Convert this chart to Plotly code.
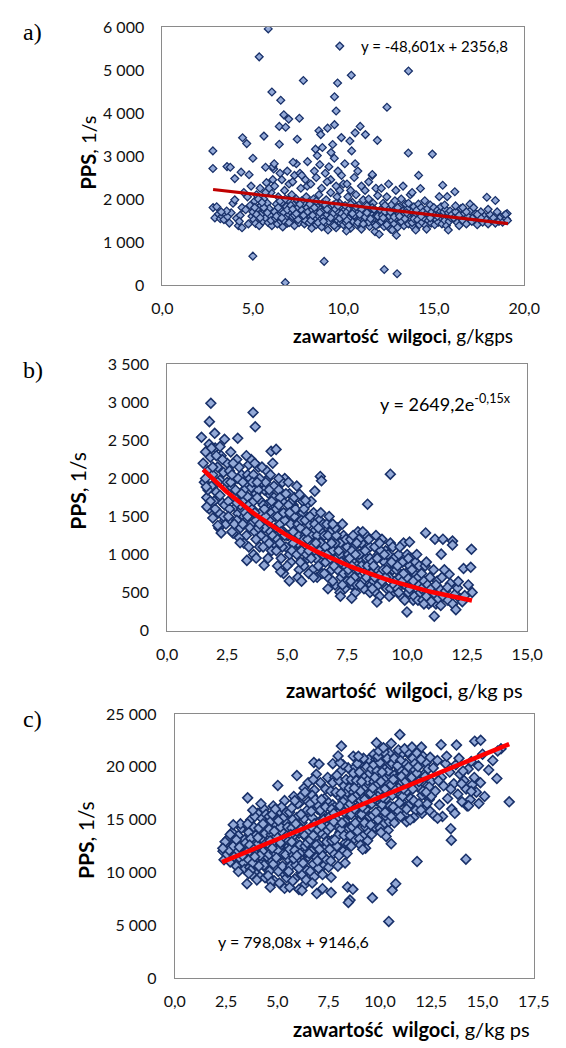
import math
import plotly.graph_objects as go

W, H = 566, 1048

# ---------------- DATA ----------------
# Panel a) PPS vs moisture content, linear trend y = -48,601x + 2356,8
A_OUTLIERS = [(5.85, 5960), (5.35, 5310), (9.8, 5560), (13.6, 4980), (10.44, 4880), (7.79, 4760),
              (9.68, 4700), (9.51, 4380), (6.05, 4490), (6.54, 4300), (12.41, 4135), (9.6, 4050),
              (6.71, 3960), (6.98, 3860), (7.57, 3880), (6.46, 3690), (6.81, 3670), (5.61, 3465),
              (4.43, 3425), (4.66, 3290), (7.45, 3390), (6.46, 3275), (9.51, 3730), (8.65, 3590),
              (8.75, 3500), (9.13, 3650), (9.41, 3270), (9.89, 3430), (10.36, 3350), (10.46, 3120),
              (10.65, 3540), (10.93, 3690), (11.22, 3500), (11.88, 3365), (8.46, 3160), (8.84, 3200),
              (9.32, 3080), (8.56, 3010), (2.79, 3120), (2.79, 2710), (5.0, 2950), (13.59, 3070),
              (14.92, 3045), (3.57, 2755), (3.75, 2740), (4.0, 2475), (4.35, 2625), (4.79, 2565),
              (5.7, 2740), (6.18, 2820), (7.22, 2855), (8.02, 2870), (10.08, 2820), (10.65, 2820),
              (14.16, 2550), (11.6, 2570), (14.26, 2245), (15.49, 2320), (16.16, 2170), (15.74, 2055),
              (15.3, 2055), (17.93, 2040), (18.4, 1965), (18.97, 1640), (19.07, 1500), (5.0, 670),
              (8.94, 548), (6.79, 53), (12.26, 358), (12.97, 259), (11.98, 1180), (12.93, 1157),
              (10.17, 1256)]
A_CLOUD = [
    (2.8, 1800), (2.9, 1560), (3.0, 1820), (3.1, 1650), (3.2, 1540), (3.3, 1600), (3.4, 1520), (3.5, 1640),
    (3.6, 1590), (3.7, 1440), (3.8, 1680), (3.9, 1900), (4.0, 1980), (3.55, 1720), (3.25, 1700), (4.1, 1550),
    (4.2, 1380), (4.3, 1620), (4.4, 1800), (4.5, 2150), (4.25, 1480), (4.6, 1750), (4.7, 2050), (4.75, 1420),
    (4.4, 1330), (4.85, 1850), (4.9, 2300), (4.95, 1600),
    (5.0, 1700), (5.05, 1520), (5.1, 1950), (5.15, 1430), (5.2, 2100), (5.25, 1780), (5.3, 1600), (5.35, 1380),
    (5.4, 2250), (5.45, 1850), (5.5, 1660), (5.55, 1480), (5.6, 2000), (5.65, 1720), (5.7, 1560), (5.75, 2380),
    (5.8, 1900), (5.85, 1450), (5.9, 1780), (5.95, 1620), (6.0, 2150), (6.05, 1380), (5.2, 1640), (5.4, 1560),
    (5.6, 1800), (5.8, 1680), (6.0, 1500), (5.1, 1800), (5.3, 2000), (5.5, 1920), (5.7, 2150), (5.9, 2250),
    (6.1, 2450), (6.15, 2700), (6.1, 2750),
    (6.2, 1700), (6.25, 1550), (6.3, 1880), (6.35, 1420), (6.4, 2050), (6.45, 1630), (6.5, 1760), (6.55, 1480),
    (6.6, 1920), (6.65, 1350), (6.7, 1680), (6.75, 2200), (6.8, 1560), (6.85, 1820), (6.9, 1440), (6.95, 1980),
    (7.0, 1640), (7.05, 1720), (7.1, 1500), (7.15, 2100), (7.2, 1590), (7.25, 1860), (7.3, 1380), (7.35, 1700),
    (7.4, 2000), (7.45, 1540), (7.5, 1800), (7.55, 1450), (7.6, 1650), (7.65, 2250), (7.7, 1740), (7.75, 1580),
    (7.8, 1900), (7.85, 1420), (7.9, 1680), (7.95, 2050), (8.0, 1560),
    (6.3, 1600), (6.5, 1950), (6.7, 1500), (6.9, 1750), (7.1, 1850), (7.3, 1620), (7.5, 1520), (7.7, 1960),
    (7.9, 1500), (6.4, 1800), (6.6, 1560), (6.8, 2000), (7.0, 1450), (7.2, 1760), (7.4, 1660), (7.6, 1880),
    (7.8, 1620), (8.0, 1800), (6.2, 2300), (6.6, 2450), (7.0, 2350), (7.3, 2550), (7.6, 2600), (7.9, 2450),
    (6.9, 2650), (7.4, 2820), (7.7, 2550), (8.0, 2300), (6.5, 2600), (7.2, 2400),
    (8.05, 1700), (8.1, 1450), (8.15, 1880), (8.2, 1600), (8.25, 1320), (8.3, 1750), (8.35, 2000), (8.4, 1540),
    (8.45, 1680), (8.5, 1400), (8.55, 1820), (8.6, 1620), (8.65, 2100), (8.7, 1500), (8.75, 1760), (8.8, 1350),
    (8.85, 1900), (8.9, 1580), (8.95, 1700), (9.0, 1450), (9.05, 1980), (9.1, 1640), (9.15, 1280), (9.2, 1800),
    (9.25, 1540), (9.3, 2150), (9.35, 1700), (9.4, 1420), (9.45, 1860), (9.5, 1600), (9.55, 1760), (9.6, 1330),
    (9.65, 2050), (9.7, 1500), (9.75, 1680), (9.8, 1900), (9.85, 1440), (9.9, 1820), (9.95, 1580), (10.0, 1720),
    (8.2, 1500), (8.4, 1800), (8.6, 1450), (8.8, 1700), (9.0, 1860), (9.2, 1480), (9.4, 1650), (9.6, 1900),
    (9.8, 1550), (10.0, 1400), (8.3, 1620), (8.5, 1950), (8.7, 1680), (8.9, 1480), (9.1, 1760), (9.3, 1560),
    (9.5, 1380), (9.7, 1840), (9.9, 1660),
    (8.2, 2350), (8.5, 2500), (8.8, 2250), (9.0, 2600), (9.3, 2450), (9.6, 2300), (9.9, 2550), (8.7, 2800),
    (9.2, 2750), (9.7, 2650), (10.0, 2350), (8.4, 2650), (9.5, 2950), (9.1, 2400), (9.8, 2200),
    (10.05, 1600), (10.1, 1850), (10.15, 1450), (10.2, 1700), (10.25, 2050), (10.3, 1540), (10.35, 1780),
    (10.4, 1320), (10.45, 1660), (10.5, 1920), (10.55, 1480), (10.6, 1740), (10.65, 1580), (10.7, 2100),
    (10.75, 1400), (10.8, 1680), (10.85, 1860), (10.9, 1520), (10.95, 1760), (11.0, 1300), (11.05, 1620),
    (11.1, 1980), (11.15, 1500), (11.2, 1700), (11.25, 1440), (11.3, 1840), (11.35, 1580), (11.4, 2000),
    (11.45, 1360), (11.5, 1660), (11.55, 1780), (11.6, 1480), (11.65, 1900), (11.7, 1560), (11.75, 1240),
    (11.8, 1720), (11.85, 1620), (11.9, 2080), (11.95, 1420), (12.0, 1680),
    (10.2, 1500), (10.4, 1880), (10.6, 1620), (10.8, 1450), (11.0, 1760), (11.2, 1580), (11.4, 1460),
    (11.6, 1800), (11.8, 1380), (12.0, 1540), (10.3, 1380), (10.5, 1660), (10.7, 1820), (10.9, 1640),
    (11.1, 1420), (11.3, 1680), (11.5, 1540), (11.7, 1760), (11.9, 1600),
    (10.2, 2350), (10.6, 2500), (11.0, 2300), (11.4, 2400), (11.8, 2250), (10.8, 2650), (11.6, 2550),
    (10.4, 2200), (11.2, 2200),
    (12.05, 1750), (12.1, 1480), (12.15, 1620), (12.2, 1900), (12.25, 1360), (12.3, 1700), (12.35, 1540),
    (12.4, 2050), (12.45, 1440), (12.5, 1780), (12.55, 1600), (12.6, 1300), (12.65, 1860), (12.7, 1500),
    (12.75, 1680), (12.8, 1420), (12.85, 1960), (12.9, 1560), (12.95, 1740), (13.0, 1340), (13.05, 1640),
    (13.1, 1820), (13.15, 1460), (13.2, 2000), (13.25, 1580), (13.3, 1720), (13.35, 1380), (13.4, 1660),
    (13.45, 1880), (13.5, 1500), (13.55, 1760), (13.6, 1420), (13.65, 1620), (13.7, 2100), (13.75, 1540),
    (13.8, 1700), (13.85, 1360), (13.9, 1820), (13.95, 1600), (14.0, 1480),
    (12.2, 1560), (12.4, 1400), (12.6, 1700), (12.8, 1580), (13.0, 1800), (13.2, 1480), (13.4, 1540),
    (13.6, 1900), (13.8, 1450), (14.0, 1660), (12.3, 1850), (12.7, 1280), (13.1, 1600), (13.5, 1680),
    (13.9, 1540), (12.9, 2200), (13.3, 2300), (12.5, 2350), (13.8, 2150), (12.1, 2250),
    (14.05, 1740), (14.1, 1520), (14.15, 1880), (14.2, 1400), (14.25, 1640), (14.3, 1800), (14.35, 1460),
    (14.4, 1700), (14.45, 1560), (14.5, 1960), (14.55, 1380), (14.6, 1660), (14.65, 1780), (14.7, 1500),
    (14.75, 1620), (14.8, 1860), (14.85, 1440), (14.9, 1700), (14.95, 1560), (15.0, 1800), (15.05, 1400),
    (15.1, 1640), (15.15, 1520), (15.2, 1740), (15.25, 1460), (15.3, 1680), (15.35, 1580), (15.4, 1820),
    (15.45, 1420), (15.5, 1620), (15.55, 1700), (15.6, 1500), (15.65, 1760), (15.7, 1380), (15.75, 1600),
    (15.8, 1680), (15.85, 1480), (15.9, 1720), (15.95, 1560), (16.0, 1640),
    (14.3, 1600), (14.8, 1560), (15.2, 1600), (15.6, 1860), (14.6, 1300), (15.8, 1280), (14.0, 1280),
    (16.1, 1560), (16.2, 1700), (16.3, 1450), (16.4, 1620), (16.5, 1780), (16.6, 1500), (16.7, 1660),
    (16.8, 1420), (16.9, 1600), (17.0, 1720), (17.1, 1480), (17.2, 1580), (17.3, 1660), (17.4, 1400),
    (17.5, 1540), (17.6, 1700), (17.7, 1460), (17.8, 1600), (17.9, 1520), (18.0, 1420), (18.1, 1640),
    (18.2, 1500), (18.3, 1560), (18.4, 1440), (18.5, 1700), (18.6, 1480), (18.7, 1580), (18.8, 1460),
    (18.9, 1620), (19.0, 1540), (19.05, 1660),
    (16.2, 1840), (16.6, 1800), (17.0, 1880), (16.4, 1380), (17.2, 1800), (17.6, 1560), (18.0, 1760),
    (16.8, 1700), (17.4, 1640)]
A_SLOPE, A_INTERCEPT = -48.601, 2356.8
A_TREND_X = [2.8, 19.1]

# Panel b) exponential trend y = 2649,2 e^(-0,15x)
B_OUTLIERS = [(1.82, 2989), (1.76, 2748), (1.43, 2542), (1.98, 2594), (2.39, 2516), (2.94, 2529),
              (3.58, 2868), (3.67, 2680), (4.33, 2357), (4.54, 2383), (2.65, 2349), (9.3, 2057),
              (8.35, 1662), (6.38, 2027), (6.43, 1971), (6.15, 1834), (5.52, 1791), (5.76, 1713),
              (10.77, 1284), (11.16, 1202), (11.49, 1202), (11.89, 1177), (11.89, 1125), (12.68, 1069),
              (11.42, 1005), (10.1, 1164), (12.35, 816), (12.65, 833), (12.13, 644), (12.71, 502),
              (12.03, 275), (11.13, 189), (9.99, 245), (11.68, 567), (3.04, 1155), (3.32, 923),
              (3.71, 953), (4.04, 859), (2.25, 1284), (2.11, 1383), (1.65, 1627), (1.63, 1889),
              (7.22, 451), (7.69, 425), (8.74, 374), (4.73, 773), (5.09, 653)]
B_CLOUD = [
    (1.5, 2200), (1.55, 1950), (1.6, 2350), (1.65, 1750), (1.7, 2100), (1.75, 1600), (1.8, 2280), (1.85, 1900),
    (1.9, 2050), (1.95, 1700), (2.0, 2400), (2.05, 1820), (2.1, 2150), (2.15, 1550), (2.2, 1980), (2.25, 2300),
    (2.3, 1680), (2.35, 2080), (2.4, 1450), (2.45, 1880), (2.5, 2200),
    (1.6, 2000), (1.7, 1850), (1.8, 1700), (1.9, 2150), (2.0, 1600), (2.1, 1950), (2.2, 1780), (2.3, 2250),
    (2.4, 1650), (2.5, 1950), (1.75, 2450), (1.85, 2400), (2.05, 2300), (2.35, 1500), (1.9, 1480), (2.15, 1350),
    (2.45, 1400), (2.2, 2420),
    (2.55, 1700), (2.6, 2100), (2.65, 1450), (2.7, 1880), (2.75, 1280), (2.8, 1980), (2.85, 1620), (2.9, 2250),
    (2.95, 1540), (3.0, 1800), (3.05, 1350), (3.1, 2050), (3.15, 1700), (3.2, 1500), (3.25, 1920), (3.3, 1250),
    (3.35, 1760), (3.4, 2180), (3.45, 1580), (3.5, 1880),
    (2.6, 1600), (2.7, 1300), (2.8, 1750), (2.9, 1450), (3.0, 2150), (3.1, 1600), (3.2, 1850), (3.3, 1450),
    (3.4, 1650), (3.5, 1400), (2.65, 1950), (2.75, 2200), (2.85, 1850), (2.95, 2000), (3.05, 1650), (3.15, 1950),
    (3.25, 1550), (3.35, 2050), (3.45, 1350), (2.55, 1500), (3.2, 1150), (3.4, 1100), (3.0, 1220), (2.8, 1400),
    (3.35, 1500), (3.15, 1400), (2.9, 1680), (3.45, 2000), (3.5, 2250), (3.3, 2300), (3.1, 1800), (2.7, 2050),
    (3.55, 1600), (3.6, 2050), (3.65, 1300), (3.7, 1800), (3.75, 1500), (3.8, 2150), (3.85, 1100), (3.9, 1700),
    (3.95, 1950), (4.0, 1400), (4.05, 1850), (4.1, 1200), (4.15, 1650), (4.2, 2000), (4.25, 1450), (4.3, 1780),
    (4.35, 1050), (4.4, 1600), (4.45, 1900), (4.5, 1350),
    (3.6, 1700), (3.7, 1450), (3.8, 1850), (3.9, 1250), (4.0, 1650), (4.1, 1950), (4.2, 1550), (4.3, 1300),
    (4.4, 2200), (4.5, 1700), (3.55, 1950), (3.65, 2200), (3.75, 1750), (3.85, 2000), (3.95, 1500), (4.05, 1350),
    (4.15, 2100), (4.25, 1850), (4.35, 1550), (4.45, 1150), (3.6, 1000), (3.8, 1350), (4.0, 1100), (4.2, 950),
    (4.4, 1250), (3.7, 1200), (3.9, 1550), (4.1, 1500), (4.3, 2050), (4.5, 1500), (3.65, 1550), (4.25, 1150),
    (3.95, 2150), (4.45, 1750), (3.75, 1950), (4.05, 1600), (4.35, 1700), (3.85, 1400),
    (4.55, 1600), (4.6, 1200), (4.65, 1850), (4.7, 1400), (4.75, 950), (4.8, 1700), (4.85, 1300), (4.9, 2000),
    (4.95, 1100), (5.0, 1550), (5.05, 1250), (5.1, 1800), (5.15, 900), (5.2, 1450), (5.25, 1650), (5.3, 1050),
    (5.35, 1350), (5.4, 1900), (5.45, 1150), (5.5, 1500),
    (4.6, 1500), (4.7, 1750), (4.8, 1100), (4.9, 1450), (5.0, 1250), (5.1, 1000), (5.2, 1700), (5.3, 1500),
    (5.4, 1200), (5.5, 800), (4.55, 1050), (4.65, 1650), (4.75, 1300), (4.85, 1550), (4.95, 1800), (5.05, 1650),
    (5.15, 1400), (5.25, 1150), (5.35, 1600), (5.45, 1400), (4.6, 850), (4.8, 1950), (5.0, 850), (5.2, 1050),
    (5.4, 1000), (4.7, 1150), (4.9, 1250), (5.1, 1550), (5.3, 1750), (5.5, 1250), (4.65, 2000), (5.05, 1950),
    (5.25, 1300), (5.45, 700), (4.85, 750),
    (5.55, 1350), (5.6, 1050), (5.65, 1550), (5.7, 850), (5.75, 1250), (5.8, 1650), (5.85, 950), (5.9, 1400),
    (5.95, 1150), (6.0, 1700), (6.05, 800), (6.1, 1300), (6.15, 1050), (6.2, 1500), (6.25, 700), (6.3, 1200),
    (6.35, 1450), (6.4, 900), (6.45, 1300), (6.5, 1100),
    (5.6, 1450), (5.7, 1200), (5.8, 1000), (5.9, 750), (6.0, 1250), (6.1, 1550), (6.2, 950), (6.3, 850),
    (6.4, 1150), (6.5, 1400), (5.55, 900), (5.65, 1700), (5.75, 1450), (5.85, 1200), (5.95, 1500), (6.05, 1100),
    (6.15, 1400), (6.25, 1250), (6.35, 1050), (6.45, 750), (5.6, 650), (5.8, 1300), (6.0, 950), (6.2, 1150),
    (6.4, 1550), (5.7, 1600), (5.9, 1050), (6.1, 700), (6.3, 1350), (6.5, 1000),
    (6.55, 1250), (6.6, 900), (6.65, 1400), (6.7, 700), (6.75, 1100), (6.8, 1300), (6.85, 800), (6.9, 1050),
    (6.95, 1200), (7.0, 600), (7.05, 950), (7.1, 1350), (7.15, 850), (7.2, 1150), (7.25, 700), (7.3, 1000),
    (7.35, 1250), (7.4, 550), (7.45, 900), (7.5, 1100),
    (6.6, 1100), (6.7, 1250), (6.8, 950), (6.9, 650), (7.0, 1150), (7.1, 800), (7.2, 1000), (7.3, 1400),
    (7.4, 850), (7.5, 650), (6.55, 750), (6.65, 1000), (6.75, 1500), (6.85, 1150), (6.95, 850), (7.05, 1250),
    (7.15, 1050), (7.25, 900), (7.35, 750), (7.45, 1200), (6.7, 550), (7.0, 1350), (7.3, 600), (6.9, 1400),
    (7.2, 500),
    (7.55, 1000), (7.6, 750), (7.65, 1200), (7.7, 600), (7.75, 900), (7.8, 1100), (7.85, 500), (7.9, 850),
    (7.95, 1300), (8.0, 700), (8.05, 950), (8.1, 1150), (8.15, 650), (8.2, 1050), (8.25, 800), (8.3, 1250),
    (8.35, 550), (8.4, 900), (8.45, 1100), (8.5, 750),
    (7.6, 950), (7.7, 1050), (7.8, 700), (7.9, 600), (8.0, 1000), (8.1, 850), (8.2, 550), (8.3, 950),
    (8.4, 1200), (8.5, 600), (7.55, 800), (7.65, 650), (7.75, 1250), (7.85, 1000), (7.95, 800), (8.05, 600),
    (8.15, 1300), (8.25, 1050), (8.35, 850), (8.45, 500), (7.7, 850), (8.0, 1200), (8.3, 700), (7.9, 1150),
    (8.45, 950),
    (8.55, 900), (8.6, 650), (8.65, 1100), (8.7, 500), (8.75, 800), (8.8, 1000), (8.85, 450), (8.9, 750),
    (8.95, 1200), (9.0, 600), (9.05, 900), (9.1, 1050), (9.15, 550), (9.2, 850), (9.25, 700), (9.3, 1150),
    (9.35, 480), (9.4, 800), (9.45, 950), (9.5, 650),
    (8.6, 850), (8.7, 1250), (8.8, 600), (8.9, 1050), (9.0, 800), (9.1, 700), (9.2, 1000), (9.3, 550),
    (9.4, 1100), (9.5, 850), (8.55, 550), (8.65, 700), (8.75, 950), (8.85, 1150), (8.95, 650), (9.05, 1000),
    (9.15, 800), (9.25, 450), (9.35, 900), (9.45, 600),
    (9.55, 800), (9.6, 550), (9.65, 1000), (9.7, 700), (9.75, 450), (9.8, 900), (9.85, 1150), (9.9, 600),
    (9.95, 750), (10.0, 1000), (10.05, 500), (10.1, 850), (10.15, 650), (10.2, 950), (10.25, 400), (10.3, 750),
    (10.35, 900), (10.4, 550), (10.45, 700), (10.5, 850),
    (9.6, 850), (9.7, 1100), (9.8, 650), (9.9, 400), (10.0, 700), (10.1, 550), (10.2, 800), (10.3, 450),
    (10.4, 1000), (10.5, 600), (9.65, 500), (9.85, 750), (10.05, 950), (10.25, 650), (10.45, 400),
    (10.55, 500), (10.6, 750), (10.65, 400), (10.7, 650), (10.75, 850), (10.8, 450), (10.85, 600), (10.9, 350),
    (10.95, 700), (11.0, 550), (11.05, 400), (11.1, 800), (11.15, 480), (11.2, 350), (11.25, 650), (11.3, 420),
    (11.35, 550), (11.4, 330), (11.45, 700), (11.5, 450), (10.6, 550), (10.8, 900), (11.0, 380), (11.2, 600),
    (10.7, 350),
    (11.6, 520), (11.7, 400), (11.8, 620), (11.9, 350), (12.0, 480), (12.1, 560), (12.2, 420), (12.3, 380),
    (11.75, 740), (12.4, 460), (11.55, 800), (12.55, 600)]
B_COEF, B_EXP = 2649.2, -0.15
B_TREND_RANGE = [1.5, 12.7]

# Panel c) linear trend y = 798,08x + 9146,6
C_OUTLIERS = [(10.97, 23048), (9.83, 22273), (8.12, 21962), (10.55, 22211), (10.17, 21807), (11.56, 21869),
              (12.02, 21869), (12.98, 22087), (13.73, 22056), (14.62, 22428), (14.91, 22521), (15.74, 21497),
              (16.3, 16689), (14.82, 16534), (14.32, 16317), (14.45, 17682), (13.98, 18395), (13.45, 14145),
              (13.48, 13060), (14.19, 11260), (11.81, 11043), (10.55, 12718), (9.16, 12191), (9.63, 7600),
              (10.43, 5367), (10.6, 8313), (10.77, 8934), (8.42, 8624), (8.68, 8406), (8.54, 7383),
              (8.46, 7166), (7.62, 8096), (7.2, 8468), (6.92, 8003), (3.52, 8934), (3.55, 17061),
              (2.85, 14517), (2.34, 12284), (3.1, 10082), (6.78, 20411), (7.03, 20256), (7.96, 21032),
              (5.02, 18240), (5.95, 19170), (7.62, 9554), (12.81, 15138), (12.0, 15913), (11.47, 14983)]
C_CLOUD = [
    (2.35, 12000), (2.4, 11200), (2.5, 12600), (2.55, 11700), (2.6, 13200), (2.7, 11000), (2.75, 12300),
    (2.8, 13800), (2.9, 11500), (2.95, 12900), (3.0, 10600), (3.05, 12100), (3.1, 13500), (3.2, 11300),
    (3.25, 14200), (3.3, 12700), (3.35, 10900), (3.4, 13100), (3.45, 11900), (3.5, 14500),
    (2.45, 12900), (2.65, 12100), (2.85, 12500), (3.0, 13100), (3.15, 12400), (3.3, 11600), (3.45, 12800),
    (2.7, 13600), (3.2, 14600), (3.4, 10300),
    (3.55, 12000), (3.6, 13800), (3.65, 10500), (3.7, 15000), (3.75, 11800), (3.8, 12900), (3.85, 14300),
    (3.9, 10000), (3.95, 13500), (4.0, 11300), (4.05, 15600), (4.1, 12500), (4.15, 9600), (4.2, 14000),
    (4.25, 11000), (4.3, 13100), (4.35, 16000), (4.4, 12200), (4.45, 10400), (4.5, 14700),
    (3.6, 11200), (3.7, 13200), (3.8, 10900), (3.9, 15300), (4.0, 12600), (4.1, 14200), (4.2, 10800),
    (4.3, 12000), (4.4, 13700), (4.5, 11500), (3.55, 14600), (3.65, 12600), (3.75, 9800), (3.85, 12200),
    (3.95, 11700), (4.05, 13300), (4.15, 11600), (4.25, 15100), (4.35, 10700), (4.45, 12800), (3.8, 15900),
    (4.0, 9300), (4.2, 16500), (4.4, 9500), (3.7, 10200), (4.1, 10600), (4.3, 14600), (3.9, 11500),
    (4.45, 15500), (3.6, 9900),
    (4.55, 12700), (4.6, 15300), (4.65, 10200), (4.7, 13600), (4.75, 11100), (4.8, 16300), (4.85, 9200),
    (4.9, 12400), (4.95, 14500), (5.0, 10700), (5.05, 13200), (5.1, 15800), (5.15, 11600), (5.2, 8800),
    (5.25, 14000), (5.3, 12000), (5.35, 16800), (5.4, 10400), (5.45, 13500), (5.5, 11300),
    (4.6, 11700), (4.7, 14900), (4.8, 12900), (4.9, 10500), (5.0, 15000), (5.1, 12300), (5.2, 13900),
    (5.3, 9900), (5.4, 14800), (5.5, 12600), (4.55, 9700), (4.65, 13000), (4.75, 15500), (4.85, 11900),
    (4.95, 13400), (5.05, 10100), (5.15, 14300), (5.25, 11800), (5.35, 13000), (5.45, 9500), (4.6, 14100),
    (4.8, 10800), (5.0, 12100), (5.2, 16200), (5.4, 11700), (4.7, 9100), (4.9, 16000), (5.1, 9000),
    (5.3, 15200), (5.5, 14300), (4.75, 12300), (5.05, 14900), (5.25, 10600), (5.45, 15700), (4.85, 13900),
    (5.15, 12800), (4.65, 8600), (5.35, 8500), (4.95, 11400), (5.5, 10000),
    (5.55, 13000), (5.6, 15700), (5.65, 10600), (5.7, 14200), (5.75, 11700), (5.8, 17200), (5.85, 9400),
    (5.9, 12800), (5.95, 15200), (6.0, 11100), (6.05, 13700), (6.1, 16600), (6.15, 10000), (6.2, 14700),
    (6.25, 12200), (6.3, 18000), (6.35, 8900), (6.4, 13300), (6.45, 15900), (6.5, 11500),
    (5.6, 12200), (5.7, 16100), (5.8, 13500), (5.9, 10700), (6.0, 14500), (6.1, 12600), (6.2, 9800),
    (6.3, 15100), (6.4, 11900), (6.5, 14000), (5.55, 10100), (5.65, 13600), (5.75, 15000), (5.85, 12100),
    (5.95, 13900), (6.05, 10400), (6.15, 15500), (6.25, 13900), (6.35, 12500), (6.45, 10200), (5.6, 8600),
    (5.8, 11300), (6.0, 16500), (6.2, 17300), (6.4, 9300), (5.7, 12900), (5.9, 14600), (6.1, 11800),
    (6.3, 13600), (6.5, 16700), (5.75, 9200), (6.05, 8400), (6.25, 10900), (6.45, 12800), (5.85, 16800),
    (6.15, 14100), (6.35, 17600), (5.95, 11600), (6.2, 8300), (6.5, 18500),
    (6.55, 14000), (6.6, 16500), (6.65, 12000), (6.7, 15200), (6.75, 10800), (6.8, 17800), (6.85, 13200),
    (6.9, 11400), (6.95, 16000), (7.0, 12700), (7.05, 14800), (7.1, 18500), (7.15, 11000), (7.2, 15600),
    (7.25, 13600), (7.3, 17000), (7.35, 12300), (7.4, 14400), (7.45, 19000), (7.5, 13000),
    (6.6, 13100), (6.7, 17300), (6.8, 14600), (6.9, 12600), (7.0, 16300), (7.1, 13800), (7.2, 11600),
    (7.3, 15100), (7.4, 12900), (7.5, 16600), (6.55, 11800), (6.65, 15800), (6.75, 13500), (6.85, 16900),
    (6.95, 14100), (7.05, 12200), (7.15, 16900), (7.25, 15000), (7.35, 17900), (7.45, 14000), (6.6, 10100),
    (6.8, 9600), (7.0, 10400), (7.2, 9800), (6.7, 9000), (6.9, 19300), (7.3, 10700), (7.1, 15900),
    (6.75, 18800), (7.4, 11200), (6.95, 11100), (7.15, 14400), (7.35, 16200), (6.65, 14300), (7.5, 10500),
    (7.55, 15300), (7.6, 17700), (7.65, 13000), (7.7, 16400), (7.75, 11800), (7.8, 19000), (7.85, 14500),
    (7.9, 12500), (7.95, 17300), (8.0, 15800), (8.05, 13800), (8.1, 19600), (8.15, 16100), (8.2, 12000),
    (8.25, 18200), (8.3, 14800), (8.35, 17000), (8.4, 13300), (8.45, 19900), (8.5, 15500),
    (7.6, 14300), (7.7, 18500), (7.8, 16200), (7.9, 15000), (8.0, 18700), (8.1, 14100), (8.2, 16700),
    (8.3, 12800), (8.4, 17600), (8.5, 14200), (7.55, 12200), (7.65, 16000), (7.75, 14800), (7.85, 17600),
    (7.95, 13500), (8.05, 16300), (8.15, 14700), (8.25, 15700), (8.35, 18800), (8.45, 16300), (7.6, 11100),
    (7.8, 13100), (8.0, 11600), (8.2, 20200), (8.4, 11800), (7.7, 20300), (7.9, 19200), (8.1, 17500),
    (8.3, 10900), (8.5, 18000), (7.75, 15600), (8.05, 20400), (8.25, 13500), (7.95, 10600), (8.45, 12700),
    (8.55, 16500), (8.6, 18800), (8.65, 14300), (8.7, 17600), (8.75, 13200), (8.8, 20000), (8.85, 15700),
    (8.9, 13900), (8.95, 18400), (9.0, 16900), (9.05, 15000), (9.1, 20400), (9.15, 17300), (9.2, 13500),
    (9.25, 19000), (9.3, 16000), (9.35, 18100), (9.4, 14600), (9.45, 20700), (9.5, 16700),
    (8.6, 15500), (8.7, 19400), (8.8, 17200), (8.9, 16200), (9.0, 19500), (9.1, 15500), (9.2, 17900),
    (9.3, 14300), (9.4, 18700), (9.5, 15300), (8.55, 13500), (8.65, 17000), (8.75, 16000), (8.85, 18700),
    (8.95, 14800), (9.05, 17700), (9.15, 16200), (9.25, 16900), (9.35, 20000), (9.45, 17500), (8.6, 12500),
    (8.8, 14700), (9.0, 13200), (9.2, 20800), (9.4, 13000), (8.7, 21000), (8.9, 20300), (9.1, 18600),
    (9.3, 12300), (9.5, 19400), (8.75, 18000), (9.05, 12600), (9.25, 14700), (8.95, 21000), (9.45, 13800),
    (9.55, 17500), (9.6, 19800), (9.65, 15400), (9.7, 18600), (9.75, 14300), (9.8, 20700), (9.85, 16800),
    (9.9, 15000), (9.95, 19300), (10.0, 17800), (10.05, 16000), (10.1, 21000), (10.15, 18200), (10.2, 14600),
    (10.25, 19800), (10.3, 17000), (10.35, 19000), (10.4, 15600), (10.45, 21300), (10.5, 17600),
    (9.6, 16500), (9.7, 20200), (9.8, 18200), (9.9, 17200), (10.0, 20400), (10.1, 16400), (10.2, 18800),
    (10.3, 15300), (10.4, 19600), (10.5, 16300), (9.55, 14500), (9.65, 18000), (9.75, 17000), (9.85, 19600),
    (9.95, 15800), (10.05, 18600), (10.15, 17100), (10.25, 17900), (10.35, 20800), (10.45, 18400),
    (9.6, 13600), (9.8, 15700), (10.0, 14200), (10.2, 21400), (10.4, 14000), (9.7, 21200), (9.9, 21000),
    (10.1, 19500), (10.3, 13400), (10.5, 20200), (9.75, 19000), (10.05, 13800), (10.25, 15700),
    (9.95, 21500), (10.45, 14800),
    (10.55, 18300), (10.6, 20300), (10.65, 16200), (10.7, 19200), (10.75, 15200), (10.8, 21000),
    (10.85, 17500), (10.9, 15800), (10.95, 19800), (11.0, 18500), (11.05, 16700), (11.1, 21300),
    (11.15, 18900), (11.2, 15400), (11.25, 20300), (11.3, 17700), (11.35, 19500), (11.4, 16300),
    (11.45, 21100), (11.5, 18200),
    (10.6, 17300), (10.7, 20800), (10.8, 18900), (10.9, 18000), (11.0, 20600), (11.1, 17200), (11.2, 19400),
    (11.3, 16000), (11.4, 20000), (11.5, 17000), (10.55, 15300), (10.65, 18800), (10.75, 17800),
    (10.85, 20100), (10.95, 16600), (11.05, 19100), (11.15, 17900), (11.25, 18600), (11.35, 21400),
    (11.45, 19000), (10.7, 14700), (11.0, 15300), (11.3, 14800), (10.9, 21600), (11.2, 21700),
    (11.55, 19000), (11.6, 20800), (11.65, 16800), (11.7, 19700), (11.75, 15900), (11.8, 21300),
    (11.85, 18100), (11.9, 16500), (11.95, 20200), (12.0, 18900), (12.05, 17300), (12.1, 21000),
    (12.15, 19300), (12.2, 16000), (12.25, 20400), (12.3, 18200), (12.35, 19800), (12.4, 16900),
    (12.45, 20900), (12.5, 18600),
    (11.6, 17900), (11.7, 20300), (11.8, 19400), (11.9, 18600), (12.0, 20700), (12.1, 17700), (12.2, 19100),
    (12.3, 16500), (12.4, 18100), (12.5, 17200), (11.65, 15200), (11.85, 20000), (12.05, 15600),
    (12.25, 17600), (12.45, 15800),
    (12.6, 19900), (12.7, 17700), (12.8, 20600), (12.9, 16400), (13.0, 19000), (13.1, 18200), (13.2, 20300),
    (13.3, 17000), (13.4, 19500), (13.5, 16000), (13.6, 18400), (13.7, 20200), (13.8, 17400), (13.9, 19300),
    (14.0, 16700), (14.1, 18700), (14.2, 17900), (14.3, 19800), (14.4, 16900), (14.5, 18300),
    (12.65, 15400), (12.85, 18700), (13.05, 15300), (13.25, 21000), (13.45, 17900), (13.65, 15600),
    (13.85, 20800), (14.05, 19600), (14.25, 16300), (14.45, 20500),
    (14.6, 19000), (14.7, 17600), (14.8, 20100), (14.9, 18500), (15.0, 21200), (15.1, 17200), (15.3, 19700),
    (15.5, 20600), (15.7, 18900), (15.9, 21700)]
C_SLOPE, C_INTERCEPT = 798.08, 9146.6
C_TREND_X = [2.3, 16.3]

# ---------------- FIGURE ----------------
def px(x):
    return x / W


def py(y):
    return 1 - y / H


FONT = "Lato, Carlito, Calibri, 'Open Sans', sans-serif"
SERIF = "'Liberation Serif', 'DejaVu Serif', serif"
MARK_FILL = "#93a9d7"
MARK_LINE = "#19316a"

fig = go.Figure()

# trend lines drawn from the equations printed on the chart
a_tx = A_TREND_X
a_ty = [A_SLOPE * x + A_INTERCEPT for x in a_tx]
n_b = 60
b_tx = [B_TREND_RANGE[0] + (B_TREND_RANGE[1] - B_TREND_RANGE[0]) * i / n_b for i in range(n_b + 1)]
b_ty = [B_COEF * math.exp(B_EXP * x) for x in b_tx]
c_tx = C_TREND_X
c_ty = [C_SLOPE * x + C_INTERCEPT for x in c_tx]

panels = [
    dict(pts=A_CLOUD + A_OUTLIERS, tx=a_tx, ty=a_ty, msize=6, mlw=1.3, lcol="#c00000", lw=3.2,
         xa="x", ya="y"),
    dict(pts=B_CLOUD + B_OUTLIERS, tx=b_tx, ty=b_ty, msize=7.5, mlw=1.6, lcol="#ff0000", lw=4.5,
         xa="x2", ya="y2"),
    dict(pts=C_CLOUD + C_OUTLIERS, tx=c_tx, ty=c_ty, msize=7.5, mlw=1.6, lcol="#ff0000", lw=4.5,
         xa="x3", ya="y3"),
]
for p in panels:
    fig.add_trace(go.Scatter(
        x=[q[0] for q in p["pts"]], y=[q[1] for q in p["pts"]], mode="markers",
        marker=dict(symbol="diamond", size=p["msize"], color=MARK_FILL,
                    line=dict(color=MARK_LINE, width=p["mlw"])),
        xaxis=p["xa"], yaxis=p["ya"], showlegend=False, hoverinfo="skip"))
for p in panels:
    fig.add_trace(go.Scatter(
        x=p["tx"], y=p["ty"], mode="lines", line=dict(color=p["lcol"], width=p["lw"]),
        xaxis=p["xa"], yaxis=p["ya"], showlegend=False, hoverinfo="skip"))

# plot boxes in pixels: (left, right, top, bottom)
BOX_A = (159, 539, 17.5, 280)
BOX_B = (164, 542, 361, 632)
BOX_C = (172, 549, 717, 986)

common_ax = dict(showline=True, mirror=True, linecolor="#8a8a8a", linewidth=1, showgrid=False,
                 zeroline=False, ticks="", tickfont=dict(family=FONT, size=16, color="#111111"))


def xa(box, rng, dt):
    return dict(common_ax, domain=[px(box[0]), px(box[1])], range=rng, dtick=dt, tick0=0,
                tickformat=".1f", ticklabelstandoff=9)


def ya(box, rng, dt):
    return dict(common_ax, domain=[py(box[3]), py(box[2])], range=rng, dtick=dt, tick0=0,
                tickformat=",d", ticklabelstandoff=14)


fig.update_layout(
    width=W, height=H, margin=dict(l=0, r=0, t=0, b=0),
    paper_bgcolor="white", plot_bgcolor="white", separators=", ",
    xaxis=dict(xa(BOX_A, [0, 20], 5), anchor="y"),
    yaxis=dict(ya(BOX_A, [0, 6000], 1000), anchor="x"),
    xaxis2=dict(xa(BOX_B, [0, 15], 2.5), anchor="y2"),
    yaxis2=dict(ya(BOX_B, [0, 3500], 500), anchor="x2"),
    xaxis3=dict(xa(BOX_C, [0, 17.5], 2.5), anchor="y3"),
    yaxis3=dict(ya(BOX_C, [0, 25000], 5000), anchor="x3"),
)

ann = []


def add_text(text, x, y, size, family=FONT, xanchor="center", angle=0):
    ann.append(dict(text=text, x=px(x), y=py(y), xref="paper", yref="paper", showarrow=False,
                    xanchor=xanchor, yanchor="middle", textangle=angle,
                    font=dict(family=family, size=size, color="#000000")))


# panel letters
add_text("a)", 11, 22, 24, SERIF, "left")
add_text("b)", 11, 367, 24, SERIF, "left")
add_text("c)", 11, 722, 24, SERIF, "left")
# y titles
add_text("<b>PPS</b>, 1/s", 81, 145, 20, angle=-90)
add_text("<b>PPS</b>, 1/s", 69, 490, 21, angle=-90)
add_text("<b>PPS</b>, 1/s", 78, 845, 21, angle=-90)
# x titles
add_text("<b>zawartość  wilgoci</b>, g/kgps", 412, 332, 19)
add_text("<b>zawartość  wilgoci</b>, g/kg ps", 413, 693, 20)
add_text("<b>zawartość  wilgoci</b>, g/kg ps", 421, 1038, 20)
# equations
add_text("y = -48,601x + 2356,8", 524, 37, 15, xanchor="right")
add_text("y = 2649,2e<sup>-0,15x</sup>", 527, 400, 18, xanchor="right")
add_text("y = 798,08x + 9146,6", 215, 949, 16, xanchor="left")

fig.update_layout(annotations=ann)
fig.write_html("out.html")
